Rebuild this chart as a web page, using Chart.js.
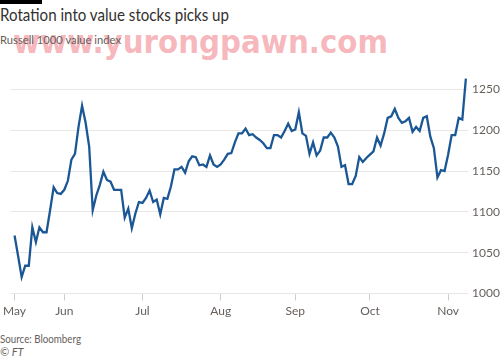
<!DOCTYPE html>
<html>
<head>
<meta charset="utf-8">
<script src="https://cdn.jsdelivr.net/npm/chart.js@4.4.1/dist/chart.umd.min.js"></script>
<style>
html,body{margin:0;padding:0;background:#fff;width:500px;height:357px;overflow:hidden;font-family:Lato,Roboto,sans-serif;}
.t{position:absolute;white-space:nowrap;transform-origin:0 0;}
#bar{position:absolute;left:0;top:0;width:42px;height:4px;background:#000;}
#title{left:0;top:5px;font-size:16.5px;color:#33302e;}
#wm{left:13px;top:23px;font-size:32px;font-weight:bold;font-family:"DejaVu Sans",sans-serif;color:rgba(240,135,144,0.6);}
#sub{left:0;top:32px;font-size:12px;color:#66605c;}
#src{left:0;top:332px;font-size:11px;color:#66605c;}
#ft{left:0;top:345px;font-size:11px;color:#66605c;font-style:italic;}
#wrap{position:absolute;left:0;top:0;width:500px;height:330px;}
</style>
</head>
<body>
<div id="bar"></div>
<div class="t" id="title">Rotation into value stocks picks up</div>
<div class="t" id="wm">www.yurongpawn.com</div>
<div class="t" id="sub">Russell 1000 value index</div>
<div id="wrap"><canvas id="c" width="500" height="330"></canvas></div>
<div class="t" id="src">Source: Bloomberg</div>
<div class="t" id="ft">© FT</div>
<script>
// Trading dates (2020, MM-DD)
const tradeDates = [
 "05-11","05-12","05-13","05-14","05-15","05-18","05-19","05-20","05-21","05-22","05-26","05-27","05-28","05-29",
 "06-01","06-02","06-03","06-04","06-05","06-08","06-09","06-10","06-11","06-12","06-15","06-16","06-17","06-18","06-19","06-22","06-23","06-24","06-25","06-26","06-29","06-30",
 "07-01","07-02","07-06","07-07","07-08","07-09","07-10","07-13","07-14","07-15","07-16","07-17","07-20","07-21","07-22","07-23","07-24","07-27","07-28","07-29","07-30","07-31",
 "08-03","08-04","08-05","08-06","08-07","08-10","08-11","08-12","08-13","08-14","08-17","08-18","08-19","08-20","08-21","08-24","08-25","08-26","08-27","08-28","08-31",
 "09-01","09-02","09-03","09-04","09-08","09-09","09-10","09-11","09-14","09-15","09-16","09-17","09-18","09-21","09-22","09-23","09-24","09-25","09-28","09-29","09-30",
 "10-01","10-02","10-05","10-06","10-07","10-08","10-09","10-12","10-13","10-14","10-15","10-16","10-19","10-20","10-21","10-22","10-23","10-26","10-27","10-28","10-29","10-30",
 "11-02","11-03","11-04","11-05","11-06","11-09"
];
// Russell 1000 value index
const indexValues = [
 1071,1046,1020,1034,1034,1081,1063,1081,1075,1075,1102,1130,1123,1122,
 1127,1138,1164,1171,1204,1230,1209,1180,1102,1120,1133,1149,1139,1137,1127,1127,1127,1093,1104,1080,1098,1112,
 1111,1117,1126,1112,1115,1097,1117,1116,1131,1152,1152,1155,1148,1162,1168,1167,1157,1158,1155,1169,1158,1155,
 1158,1164,1171,1172,1185,1196,1196,1202,1194,1195,1191,1188,1184,1178,1178,1194,1194,1191,1199,1208,1199,
 1201,1222,1196,1193,1171,1185,1169,1175,1191,1191,1197,1191,1180,1155,1157,1134,1134,1144,1167,1161,1166,
 1170,1174,1191,1181,1196,1215,1217,1226,1215,1209,1211,1215,1198,1204,1199,1215,1217,1192,1178,1142,1151,1150,
 1170,1194,1194,1215,1213,1263
];
const monthNames = ["May","Jun","Jul","Aug","Sep","Oct","Nov"];
const yTicks = [1000,1050,1100,1150,1200,1250];

// fit text widths
function fitWidth(id, w){const el=document.getElementById(id);const r=el.getBoundingClientRect().width;el.style.transform='scaleX('+(w/r)+')';}
fitWidth('wm',375);
fitWidth('title',229);
fitWidth('sub',121);
fitWidth('src',81);

// first index of each month
const monthStarts = [];
tradeDates.forEach((d,i)=>{ if(i===0 || d.slice(0,2)!==tradeDates[i-1].slice(0,2)) monthStarts.push(i); });

const FONT = {family:'Lato, Roboto, sans-serif', size:12};
new Chart(document.getElementById('c'), {
  type:'line',
  data:{datasets:[{
    data: indexValues.map((v,i)=>({x:i,y:v})),
    borderColor:'#1a5794', borderWidth:2.3, pointRadius:0, tension:0, fill:false,
    borderJoinStyle:'miter'
  }]},
  options:{
    responsive:false, animation:false, devicePixelRatio:1,
    layout:{padding:{left:8,top:73,right:0,bottom:0}},
    plugins:{legend:{display:false},tooltip:{enabled:false}},
    scales:{
      x:{type:'linear', min:-1.1, max:127.6,
        border:{display:false},
        grid:{drawOnChartArea:false, drawTicks:true, tickLength:7, color:'#d0cdca'},
        afterBuildTicks:s=>{ s.ticks = monthStarts.map(v=>({value:v})); },
        afterFit:s=>{ s.height=36.5; },
        ticks:{autoSkip:false, maxRotation:0, padding:3, color:'#66605c', font:FONT,
          callback:v=>{ const k=monthStarts.indexOf(v); return k>=0 ? monthNames[k] : ''; } }
      },
      y:{position:'right', min:1000, max:1270,
        border:{display:false},
        grid:{drawTicks:false, color:'#e9e6e3', lineWidth:1},
        afterBuildTicks:s=>{ s.ticks = yTicks.map(v=>({value:v})); },
        afterFit:s=>{ s.width=32; },
        ticks:{padding:4, color:'#66605c', font:FONT, callback:v=>String(v)}
      }
    }
  }
});
</script>
</body>
</html>
